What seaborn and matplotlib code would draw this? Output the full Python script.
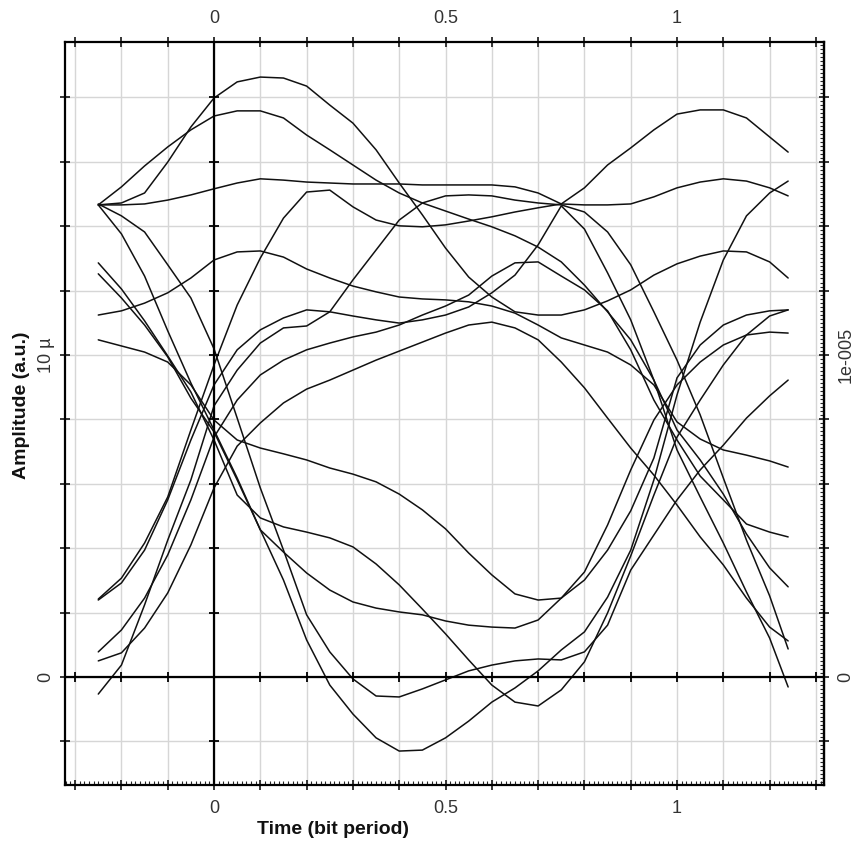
import numpy as np
import pandas as pd
import matplotlib
matplotlib.use("Agg")
import matplotlib.pyplot as plt
import seaborn as sns
from matplotlib.ticker import MultipleLocator

# ---------------- data (amplitude in micro-units, time in bit periods) -------------
time = [-0.25, -0.20, -0.15, -0.10, -0.05, 0.00, 0.05, 0.10, 0.15, 0.20, 0.25,
        0.30, 0.35, 0.40, 0.45, 0.50, 0.55, 0.60, 0.65, 0.70, 0.75, 0.80,
        0.85, 0.90, 0.95, 1.00, 1.05, 1.10, 1.15, 1.20, 1.24]

tr01 = [14.66, 14.72, 15.03, 15.99, 17.08, 17.98, 18.48, 18.63, 18.60, 18.35, 17.76,
        17.20, 16.37, 15.34, 14.35, 13.32, 12.42, 11.80, 11.34, 11.24, 11.24, 11.40,
        11.68, 12.02, 12.48, 12.83, 13.07, 13.23, 13.20, 12.89, 12.39]
tr02 = [14.66, 15.22, 15.87, 16.46, 16.99, 17.42, 17.58, 17.58, 17.36, 16.83, 16.37,
        15.90, 15.43, 15.03, 14.72, 14.47, 14.22, 13.98, 13.70, 13.35, 12.89, 12.17,
        11.34, 10.47, 9.22, 7.67, 6.74, 5.68, 4.44, 3.39, 2.80]
tr03 = [14.66, 14.66, 14.69, 14.81, 14.97, 15.16, 15.34, 15.47, 15.43, 15.37, 15.34,
        15.31, 15.31, 15.31, 15.28, 15.28, 15.28, 15.28, 15.22, 15.03, 14.69, 15.19,
        15.90, 16.43, 16.99, 17.48, 17.61, 17.61, 17.36, 16.77, 16.30]
tr04 = [11.24, 11.37, 11.61, 11.93, 12.39, 12.95, 13.20, 13.23, 13.04, 12.67, 12.39,
        12.14, 11.96, 11.80, 11.74, 11.71, 11.65, 11.52, 11.30, 10.93, 10.53, 10.31,
        10.09, 9.69, 9.07, 7.92, 7.39, 7.05, 6.89, 6.71, 6.52]
tr05 = [14.66, 13.76, 12.45, 10.75, 9.13, 7.67, 6.18, 4.57, 3.01, 1.15, -0.25,
        -1.15, -1.89, -2.30, -2.27, -1.89, -1.37, -0.78, -0.34, 0.19, 0.84, 1.40,
        2.48, 3.94, 6.12, 8.76, 11.02, 12.95, 14.32, 15.03, 15.40]
tr06 = [14.69, 14.32, 13.82, 12.80, 11.77, 10.19, 8.04, 5.87, 3.94, 1.93, 0.78,
        -0.06, -0.59, -0.62, -0.37, -0.09, 0.19, 0.37, 0.50, 0.56, 0.53, 0.78,
        1.61, 3.32, 4.41, 5.50, 6.43, 7.20, 8.04, 8.73, 9.22]
tr07 = [12.86, 12.05, 11.06, 9.97, 8.85, 7.36, 5.65, 4.94, 4.66, 4.50, 4.32,
        4.04, 3.51, 2.86, 2.11, 1.34, 0.53, -0.25, -0.78, -0.90, -0.40, 0.47,
        1.99, 3.76, 5.65, 7.45, 8.60, 9.69, 10.62, 11.21, 11.40]
tr08 = [12.52, 11.77, 10.93, 9.94, 8.66, 7.61, 6.12, 4.57, 3.88, 3.23, 2.70,
        2.33, 2.14, 2.02, 1.93, 1.74, 1.61, 1.55, 1.52, 1.77, 2.45, 3.01,
        3.94, 5.16, 6.80, 9.29, 10.31, 10.93, 11.24, 11.37, 11.40]
tr09 = [10.47, 10.28, 10.09, 9.78, 9.07, 7.98, 7.36, 7.11, 6.93, 6.74, 6.49,
        6.30, 6.06, 5.68, 5.19, 4.60, 3.85, 3.17, 2.58, 2.39, 2.45, 3.26,
        4.72, 6.43, 7.98, 9.07, 9.78, 10.31, 10.62, 10.71, 10.68]
tr10 = [2.42, 3.07, 4.16, 5.59, 7.67, 9.69, 11.55, 13.01, 14.25, 15.06, 15.12,
        14.60, 14.19, 14.01, 13.98, 14.04, 14.16, 14.29, 14.44, 14.57, 14.69, 14.66,
        14.66, 14.69, 14.91, 15.19, 15.37, 15.47, 15.40, 15.19, 14.94]
tr11 = [2.39, 2.92, 3.94, 5.50, 7.36, 9.07, 10.16, 10.78, 11.15, 11.40, 11.34,
        11.21, 11.09, 10.99, 11.09, 11.24, 11.49, 11.93, 12.48, 13.42, 14.63, 13.91,
        12.55, 11.09, 9.22, 7.05, 5.59, 4.16, 2.64, 1.21, -0.31]
tr12 = [-0.53, 0.37, 2.24, 4.25, 6.12, 8.42, 9.53, 10.37, 10.84, 10.90, 11.34,
        12.33, 13.26, 14.19, 14.72, 14.94, 14.97, 14.94, 14.81, 14.72, 14.66, 14.44,
        13.82, 12.80, 11.34, 9.84, 8.14, 6.18, 4.25, 2.52, 0.87]
tr13 = [0.78, 1.46, 2.45, 3.79, 5.50, 7.45, 8.60, 9.38, 9.84, 10.16, 10.37,
        10.56, 10.71, 10.93, 11.24, 11.52, 11.86, 12.45, 12.86, 12.89, 12.45, 12.02,
        11.37, 10.16, 8.60, 7.36, 6.24, 5.50, 4.75, 4.50, 4.35]
tr14 = [0.50, 0.75, 1.52, 2.61, 4.10, 5.87, 7.17, 7.89, 8.51, 8.94, 9.22,
        9.53, 9.84, 10.12, 10.40, 10.68, 10.93, 11.02, 10.84, 10.47, 9.78, 8.98,
        8.04, 7.11, 6.27, 5.34, 4.35, 3.48, 2.45, 1.55, 1.12]

traces = [tr01, tr02, tr03, tr04, tr05, tr06, tr07, tr08, tr09, tr10, tr11, tr12, tr13, tr14]

x_major_labels = {0.0: "0", 0.5: "0.5", 1.0: "1"}
y_left_labels = {0: "0", 10: "10 \u00b5"}
y_right_labels = {0: "0", 10: "1e-005"}

# ---------------- build long-form table ----------------
rows = []
for k, tr in enumerate(traces):
    for t, a in zip(time, tr):
        rows.append({"trace": k, "time": t, "amp": a})
df = pd.DataFrame(rows)

sns.set_style("white")
plt.rcParams["font.family"] = ["Liberation Sans", "DejaVu Sans"]

fig = plt.figure(figsize=(8.58, 8.46), dpi=100)
ax = fig.add_axes([0.0758, 0.0721, 0.8846, 0.8783])

sns.lineplot(data=df, x="time", y="amp", units="trace", estimator=None,
             color="#111111", lw=1.1, sort=False, legend=False, ax=ax, zorder=3)

xmin, xmax = -0.3218, 1.3175
ymin, ymax = -3.354, 19.72
ax.set_xlim(xmin, xmax)
ax.set_ylim(ymin, ymax)

# grid
xt = np.round(np.arange(-0.3, 1.31, 0.1), 2)
yt = np.arange(-2, 19, 2)
for v in xt:
    ax.axvline(v, color="#d6d6d6", lw=1.0, zorder=0)
for v in yt:
    ax.axhline(v, color="#d6d6d6", lw=1.0, zorder=0)

# axes through origin
ax.axhline(0, color="black", lw=1.6, zorder=4)
ax.axvline(0, color="black", lw=1.6, zorder=4)
ax.plot(np.zeros(len(yt)), yt, ls="none", marker="_", ms=7, mew=1.3, color="black", zorder=4)
ax.plot(xt, np.zeros(len(xt)), ls="none", marker="|", ms=7, mew=1.3, color="black", zorder=4)

for s in ax.spines.values():
    s.set_color("black")
    s.set_linewidth(1.6)

ax.set_xticks(xt)
ax.set_xticklabels([x_major_labels.get(float(v), "") for v in xt])
ax.set_yticks(yt)
ax.set_yticklabels([y_left_labels.get(int(v), "") for v in yt])
ax.xaxis.set_minor_locator(MultipleLocator(0.01))
ax.tick_params(axis="x", which="major", direction="inout", length=7, width=1.3,
               top=True, labeltop=True, bottom=True, labelbottom=True,
               labelsize=13, labelcolor="#333333", pad=7)
ax.tick_params(axis="x", which="minor", direction="in", length=3, width=0.8,
               top=False, bottom=True)
ax.tick_params(axis="y", which="major", direction="inout", length=7, width=1.3,
               left=True, labelleft=True, labelsize=13, labelcolor="#333333",
               pad=4, labelrotation=90)
for lab in ax.get_yticklabels():
    lab.set_va("center")

sec = ax.secondary_yaxis("right")
sec.set_yticks(yt)
sec.set_yticklabels([y_right_labels.get(int(v), "") for v in yt])
sec.yaxis.set_minor_locator(MultipleLocator(0.125))
sec.tick_params(axis="y", which="major", direction="inout", length=7, width=1.3,
                labelsize=13, labelcolor="#333333", pad=6, labelrotation=90)
sec.tick_params(axis="y", which="minor", direction="in", length=3, width=0.8)
sec.spines["right"].set_linewidth(1.6)
for lab in sec.get_yticklabels():
    lab.set_va("center")

ax.set_xlabel("")
ax.set_ylabel("")
fig.text(0.388, 0.019, "Time (bit period)", fontsize=14, fontweight="bold",
         ha="center", va="center", color="#111111")
fig.text(0.0256, 0.521, "Amplitude (a.u.)", fontsize=14, fontweight="bold",
         ha="center", va="center", rotation=90, color="#111111")

fig.savefig("out.png", dpi=100, facecolor="white")
